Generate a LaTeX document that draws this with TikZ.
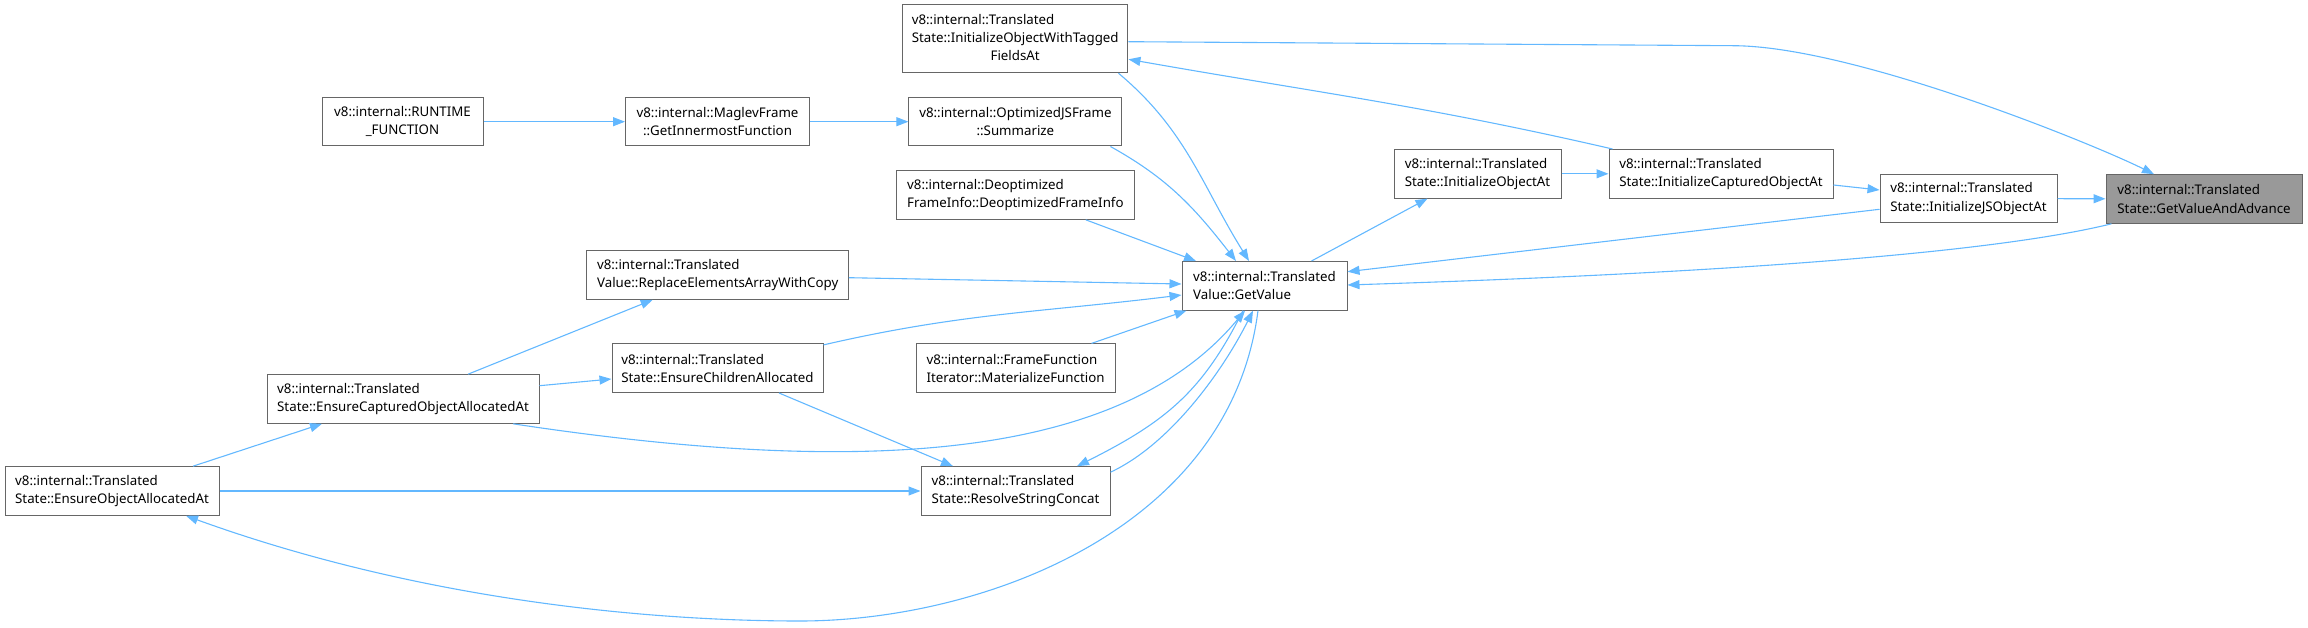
\documentclass[tikz,border=0pt]{standalone}
\usepackage{fontspec}
\setmainfont{Noto Sans}
\usetikzlibrary{arrows.meta}
\definecolor{edgeblue}{HTML}{63B8FF}
\definecolor{boxline}{HTML}{666666}
\definecolor{boxgray}{HTML}{999999}
\tikzset{
  fn/.style={draw=boxline,fill=white,line width=1pt,inner xsep=3pt,inner ysep=2pt,minimum height=48.6pt,align=left},
  fnmid/.style={fn,align=center},
  fnhere/.style={fn,fill=boxgray},
  call/.style={draw=edgeblue,line width=1.1pt,-{Triangle[length=12pt,width=9pt]}},
}
\begin{document}
\begin{tikzpicture}[x=1pt,y=-1pt,font=\fontsize{13.3}{18.3}\selectfont]
\useasboundingbox (0,0) rectangle (2308,628);
\node[fnmid,minimum width=161pt] (rtf) at (402.5,121.7) {v8::internal::RUNTIME\\\_FUNCTION};
\node[fnmid,minimum width=184pt] (maglev) at (717.5,121.7) {v8::internal::MaglevFrame\\::GetInnermostFunction};
\node[fnmid,minimum width=213pt] (summarize) at (1015.4,121.7) {v8::internal::OptimizedJSFrame\\::Summarize};
\node[fn,minimum width=225.5pt,minimum height=68pt] (tagged) at (1015.2,38.7) {\begin{tabular}{@{}l@{}}v8::internal::Translated\\State::InitializeObjectWithTagged\\\multicolumn{1}{@{}c@{}}{FieldsAt}\end{tabular}};
\node[fn,minimum width=238.7pt] (deopt) at (1015.4,195) {v8::internal::Deoptimized\\FrameInfo::DeoptimizedFrameInfo};
\node[fn,minimum width=261.5pt] (replace) at (717.7,275) {v8::internal::Translated\\Value::ReplaceElementsArrayWithCopy};
\node[fn,minimum width=165pt] (getvalue) at (1264.5,285.8) {v8::internal::Translated\\Value::GetValue};
\node[fn,minimum width=167pt] (initobj) at (1477.5,173.8) {v8::internal::Translated\\State::InitializeObjectAt};
\node[fn,minimum width=224pt] (initcap) at (1721,173.8) {v8::internal::Translated\\State::InitializeCapturedObjectAt};
\node[fn,minimum width=177pt] (initjs) at (1968.5,198.5) {v8::internal::Translated\\State::InitializeJSObjectAt};
\node[fnhere,minimum width=196pt] (gva) at (2204,199) {v8::internal::Translated\\State::GetValueAndAdvance};
\node[fn,minimum width=272pt] (ensurecap) at (403,399) {v8::internal::Translated\\State::EnsureCapturedObjectAllocatedAt};
\node[fn,minimum width=211pt] (ensurechild) at (717.5,368.2) {v8::internal::Translated\\State::EnsureChildrenAllocated};
\node[fn,minimum width=214pt] (ensureobj) at (112,491) {v8::internal::Translated\\State::EnsureObjectAllocatedAt};
\node[fn,minimum width=199pt] (materialize) at (1015.5,368.2) {v8::internal::FrameFunction\\Iterator::MaterializeFunction};
\node[fn,minimum width=189pt] (resolve) at (1015.5,491) {v8::internal::Translated\\State::ResolveStringConcat};
\coordinate (dip) at (800,621);
% calls
\draw[call] (rtf) -- (maglev);
\draw[call] (maglev) -- (summarize);
\draw[call] ([xshift=-12pt]summarize.south east) to[out=-29,in=128] ([xshift=-28.5pt]getvalue.north);
\draw[call] ([xshift=-10pt]tagged.south east) to[out=-40,in=122] ([xshift=-15.5pt]getvalue.north);
\draw[call] ([xshift=70.3pt]deopt.south) -- ([xshift=-68.5pt]getvalue.north);
\draw[call] ([yshift=-2.7pt]replace.east) -- ([yshift=1.8pt]getvalue.west);
\draw[call] ([yshift=-1.5pt]ensurechild.north east) to[out=13,in=187] ([yshift=-9.2pt]getvalue.west);
\draw[call] ([xshift=76pt]materialize.north) -- ([xshift=-78pt]getvalue.south);
\draw[call] ([xshift=47pt]getvalue.north) -- ([xshift=-50pt]initobj.south);
\draw[call] (initobj) -- (initcap);
\draw[call] ([xshift=4pt]initcap.north west) to[out=167,in=-10] ([yshift=-20.6pt]tagged.east);
\draw[call] ([yshift=-11.2pt]initcap.east) -- ([yshift=8.5pt]initjs.west);
\draw[call] (initjs) -- (gva);
\draw[call] ([yshift=-3pt]tagged.east) -- ++(604,4) .. controls +(120,0) and +(-60,-30) .. ([xshift=-50pt]gva.north);
\draw[call] ([yshift=-10.8pt]initjs.west) -- ([yshift=14.1pt]getvalue.east);
\draw[call] ([xshift=6pt]gva.south west) .. controls +(-150,37) and +(250,-8) .. ([yshift=0.8pt]getvalue.east);
\draw[call] ([xshift=65pt]ensurecap.north) -- ([xshift=-65pt]replace.south);
\draw[call] ([yshift=13.3pt]ensurecap.east) -- ([yshift=-10.8pt]ensurechild.west);
\draw[call] ([xshift=110pt]ensurecap.south) .. controls +(350,53) and +(-125,150) .. ([xshift=-19.5pt]getvalue.south);
\draw[call] ([xshift=81pt]ensureobj.north) -- ([xshift=-81pt]ensurecap.south);
\draw[call] (ensureobj) -- (resolve);
\draw[call] ([xshift=61.5pt]ensurechild.south) -- ([xshift=-62.5pt]resolve.north);
\draw[call] ([xshift=-21.5pt]getvalue.south) .. controls +(-40,80) and +(90,-45) .. ([xshift=61.5pt]resolve.north);
\draw[call] ([yshift=-6pt]resolve.north east) .. controls +(60,-28) and +(-30,60) .. ([xshift=-11.5pt]getvalue.south);
\draw[call] ([xshift=-6.5pt]getvalue.south) .. controls +(-28,220) and +(180,0) .. (dip) .. controls +(-150,0) and +(235,85) .. ([xshift=74pt]ensureobj.south);
\end{tikzpicture}
\end{document}
